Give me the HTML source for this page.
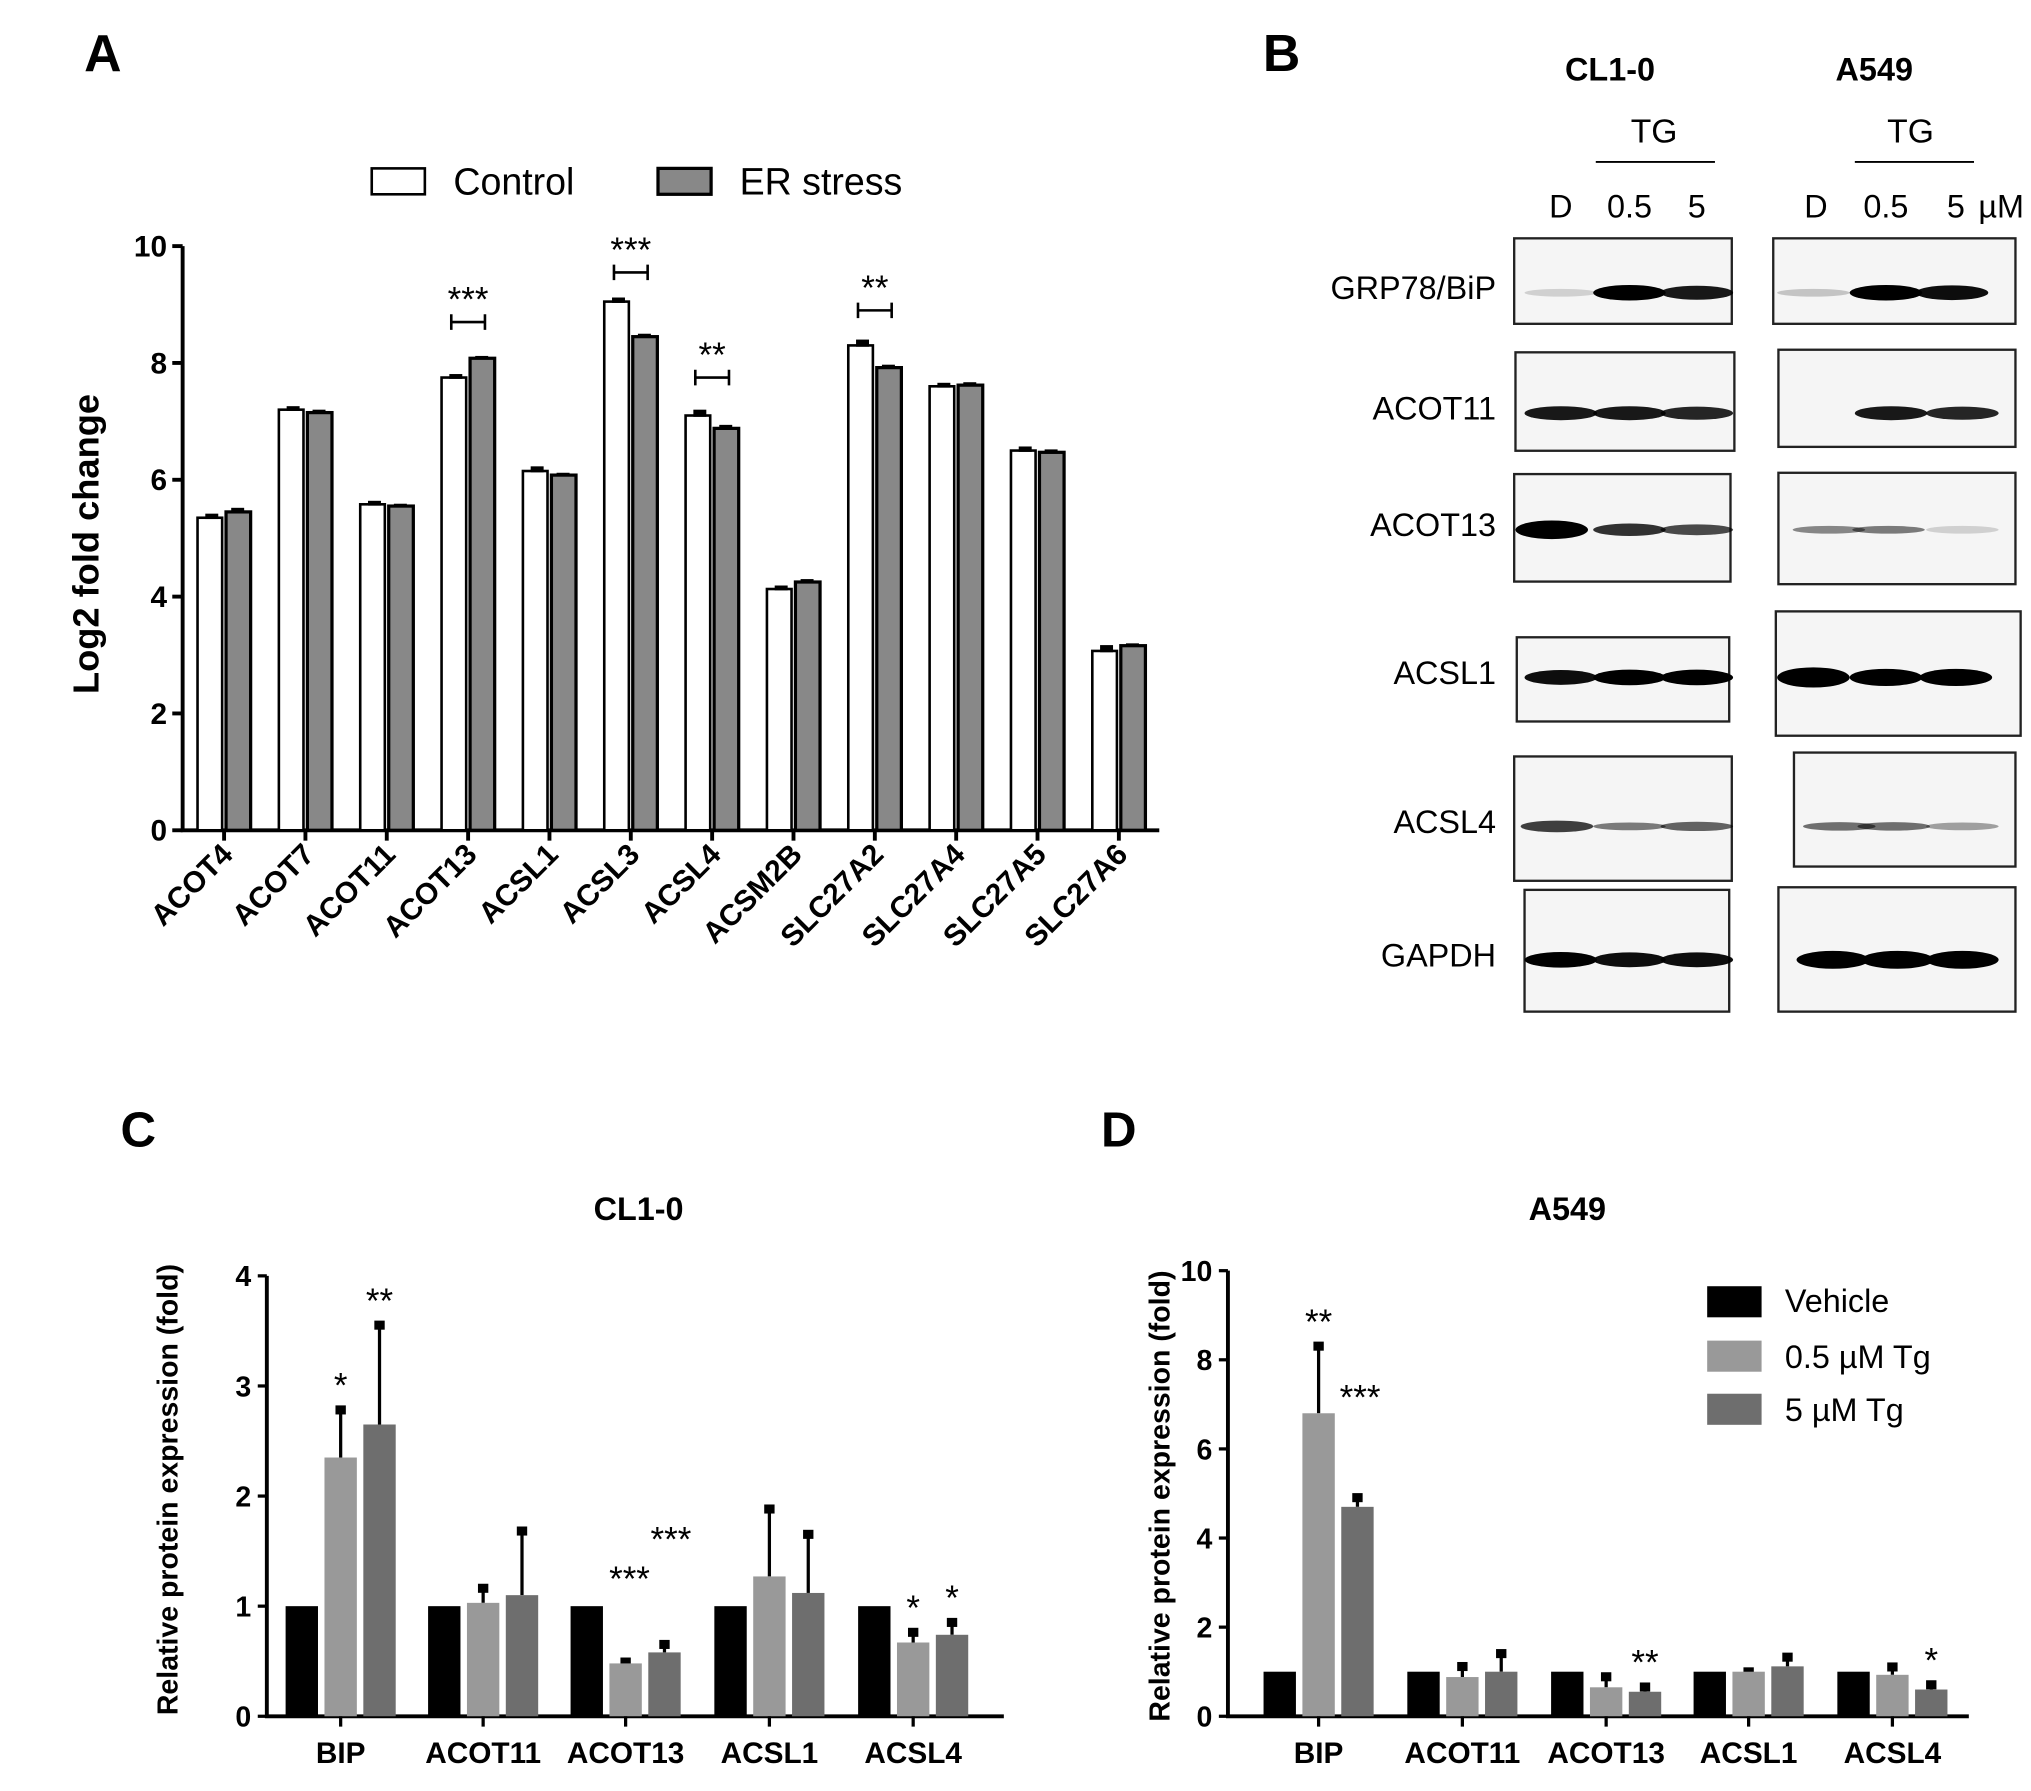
<!DOCTYPE html>
<html><head><meta charset="utf-8"><style>
html,body{margin:0;padding:0;background:#fff;}
svg{display:block;font-family:"Liberation Sans",sans-serif;}
</style></head><body>
<svg id="fig" width="2031" height="1791" viewBox="0 0 1568 1382.7" preserveAspectRatio="none" xmlns="http://www.w3.org/2000/svg">
<g id="pa">
<text x="65" y="55" font-size="40" font-weight="bold">A</text>
<rect x="287" y="130" width="41" height="20" fill="#fff" stroke="#000" stroke-width="2"/>
<text x="350" y="150" font-size="29">Control</text>
<rect x="508" y="130" width="41" height="20" fill="#888" stroke="#000" stroke-width="2.5"/>
<text x="571" y="150" font-size="29">ER stress</text>
<text transform="translate(76,420) rotate(-90)" text-anchor="middle" font-size="28" font-weight="bold">Log2 fold change</text>
</g>
<g id="pb">
<text x="975" y="55" font-size="40" font-weight="bold">B</text>
<text x="1243" y="62" font-size="25" font-weight="bold" text-anchor="middle">CL1-0</text>
<text x="1447" y="62" font-size="25" font-weight="bold" text-anchor="middle">A549</text>
<text x="1277" y="110" font-size="26" text-anchor="middle">TG</text>
<line x1="1232" y1="125" x2="1324" y2="125" stroke="#000" stroke-width="1.5"/>
<text x="1475" y="110" font-size="26" text-anchor="middle">TG</text>
<line x1="1432" y1="125" x2="1524" y2="125" stroke="#000" stroke-width="1.5"/>
<g font-size="25" text-anchor="middle">
<text x="1205" y="168">D</text><text x="1258" y="168">0.5</text><text x="1310" y="168">5</text>
<text x="1402" y="168">D</text><text x="1456" y="168">0.5</text><text x="1510" y="168">5</text><text x="1545" y="168">µM</text>
</g>
</g>
<g id="pc">
<text x="93" y="885" font-size="38" font-weight="bold">C</text>
<text x="493" y="942" font-size="25" font-weight="bold" text-anchor="middle">CL1-0</text>
<text transform="translate(137,1150) rotate(-90)" text-anchor="middle" font-size="22" font-weight="bold">Relative protein expression (fold)</text>
</g>
<g id="pd">
<text x="850" y="885" font-size="38" font-weight="bold">D</text>
<text x="1210" y="942" font-size="25" font-weight="bold" text-anchor="middle">A549</text>
<text transform="translate(903,1155) rotate(-90)" text-anchor="middle" font-size="22" font-weight="bold">Relative protein expression (fold)</text>
<rect x="1318" y="993" width="42" height="24" fill="#000"/>
<text x="1378" y="1013" font-size="25">Vehicle</text>
<rect x="1318" y="1035" width="42" height="24" fill="#999"/>
<text x="1378" y="1056" font-size="25">0.5 µM Tg</text>
<rect x="1318" y="1076" width="42" height="24" fill="#6e6e6e"/>
<text x="1378" y="1097" font-size="25">5 µM Tg</text>
</g>
</svg>
<script>
var NS="http://www.w3.org/2000/svg";
// Panel A data
var aCategories=["ACOT4","ACOT7","ACOT11","ACOT13","ACSL1","ACSL3","ACSL4","ACSM2B","SLC27A2","SLC27A4","SLC27A5","SLC27A6"];
var aControl=[5.35,7.2,5.58,7.75,6.15,9.05,7.1,4.13,8.3,7.6,6.5,3.07];
var aStress=[5.45,7.15,5.55,8.08,6.08,8.45,6.88,4.25,7.92,7.62,6.47,3.16];
var aControlErr=[0.07,0.06,0.06,0.06,0.08,0.07,0.1,0.06,0.1,0.06,0.07,0.1];
var aStressErr=[0.07,0.05,0.04,0.04,0.04,0.05,0.06,0.05,0.05,0.05,0.05,0.04];
var aTicks=[0,2,4,6,8,10];
var aSigIdx=[3,5,6,8];
var aSigLevel=[8.7,9.55,7.75,8.9];
var aSigText=["***","***","**","**"];
// Panel C data
var cCategories=["BIP","ACOT11","ACOT13","ACSL1","ACSL4"];
var cVehicle=[1,1,1,1,1];
var cLow=[2.35,1.03,0.48,1.27,0.67];
var cHigh=[2.65,1.1,0.58,1.12,0.74];
var cLowErr=[0.45,0.15,0.03,0.63,0.11];
var cHighErr=[0.92,0.6,0.09,0.55,0.13];
var cTicks=[0,1,2,3,4];
var cLowStars=["*","","***","","*"];
var cHighStars=["**","","***","","*"];
// Panel D data
var dCategories=["BIP","ACOT11","ACOT13","ACSL1","ACSL4"];
var dVehicle=[1,1,1,1,1];
var dLow=[6.8,0.88,0.65,1.0,0.93];
var dHigh=[4.7,1.0,0.55,1.12,0.6];
var dLowErr=[1.55,0.28,0.28,0.04,0.22];
var dHighErr=[0.25,0.45,0.15,0.25,0.15];
var dTicks=[0,2,4,6,8,10];
var dLowStars=["**","","","",""];
var dHighStars=["***","","**","","*"];

function mk(parent,tag,attrs,txt){var e=document.createElementNS(NS,tag);for(var k in attrs)e.setAttribute(k,attrs[k]);if(txt!==undefined)e.textContent=txt;parent.appendChild(e);return e;}

// ---- Panel A ----
(function(){
var g=document.getElementById('pa');
var x0=141,x1=895,y0=641,yTop=190,max=10;
function ys(v){return y0-(v/max)*(y0-yTop);}
var step=62.8;
function xc(i){return 173+step*i;}
var ax=mk(g,'path',{d:'M'+x0+' '+yTop+' V'+y0+' H'+x1,fill:'none',stroke:'#000','stroke-width':3});


aTicks.forEach(function(t){
 var l=mk(g,'line',{x1:x0-8,x2:x0,y1:ys(t),y2:ys(t),stroke:'#000','stroke-width':3});
 
 
 var tx=mk(g,'text',{x:x0-12,y:ys(t)+8,'font-size':23,'font-weight':'bold','text-anchor':'end'},String(t));
 
 
});
aCategories.forEach(function(c,i){
 var cx=xc(i),bw=19;
 var r1=mk(g,'rect',{x:cx-bw-1.5,y:ys(aControl[i]),width:bw,height:y0-ys(aControl[i]),fill:'#fff',stroke:'#000','stroke-width':2});
 
 
 var e1=mk(g,'rect',{x:cx-bw/2-5,y:ys(aControl[i]+aControlErr[i]),width:10,height:ys(aControl[i])-ys(aControl[i]+aControlErr[i])+1,fill:'#000'});
 
 
 var r2=mk(g,'rect',{x:cx+1.5,y:ys(aStress[i]),width:bw,height:y0-ys(aStress[i]),fill:'#888',stroke:'#000','stroke-width':2.5});
 
 
 var e2=mk(g,'rect',{x:cx+bw/2-4,y:ys(aStress[i]+aStressErr[i]),width:10,height:ys(aStress[i])-ys(aStress[i]+aStressErr[i])+1,fill:'#000'});
 
 
 var tk=mk(g,'line',{x1:cx,x2:cx,y1:y0,y2:y0+8,stroke:'#000','stroke-width':3});
 
 
 var lb=mk(g,'text',{transform:'translate('+(cx+8)+','+(y0+20)+') rotate(-45)','font-size':23,'font-weight':'bold','text-anchor':'end'},c);
 
 
});
aSigIdx.forEach(function(idx,k){
 var cx=xc(idx),y=ys(aSigLevel[k]);
 var b=mk(g,'path',{d:'M'+(cx-13)+' '+(y-6)+' V'+(y+6)+' M'+(cx-13)+' '+y+' H'+(cx+13)+' M'+(cx+13)+' '+(y-6)+' V'+(y+6),stroke:'#000','stroke-width':2,fill:'none'});
 
 
 var s=mk(g,'text',{x:cx,y:y-8,'font-size':27,'text-anchor':'middle'},aSigText[k]);
 
 
});
})();

// ---- Panel B (western blots) ----
(function(){
var g=document.getElementById('pb');
var rows=[["GRP78/BiP",225,[1169,184,168,66],[1369,184,187,66],[0.15,1,0.9],[0.2,1,0.95],[1205,1258,1310],[1400,1456,1507]],
["ACOT11",318,[1170,272,169,76],[1373,270,183,75],[0.9,0.9,0.85],[0,0.9,0.85],[1205,1258,1310],[1412,1460,1515]],
["ACOT13",408,[1169,366,167,83],[1373,365,183,86],[1.2,0.8,0.7],[0.45,0.5,0.15],[1198,1258,1310],[1412,1458,1515]],
["ACSL1",522,[1171,492,164,65],[1371,472,189,96],[0.95,1,1],[1.3,1.1,1.1],[1205,1258,1310],[1400,1456,1510]],
["ACSL4",637,[1169,584,168,96],[1385,581,171,88],[0.75,0.5,0.6],[0.55,0.55,0.35],[1202,1258,1310],[1420,1462,1515]],
["GAPDH",740,[1177,687,158,94],[1373,685,183,96],[1,0.95,0.95],[1.15,1.15,1.15],[1205,1258,1310],[1415,1465,1515]]];
rows.forEach(function(r){
 var lb=mk(g,'text',{x:1155,y:r[1]+6,'font-size':25,'text-anchor':'end'},r[0]);
 
 
 [[r[2],r[4],r[6]],[r[3],r[5],r[7]]].forEach(function(p){
  var b=p[0];
  var box=mk(g,'rect',{x:b[0],y:b[1],width:b[2],height:b[3],fill:'#f5f5f5',stroke:'#222','stroke-width':1.8});
  
  
  var cy=r[1]+1;
  p[1].forEach(function(inten,j){
   if(inten<=0)return;
   var op=Math.min(1,inten);var h=Math.max(6,inten*12);
   var band=mk(g,'ellipse',{cx:p[2][j],cy:cy,rx:28,ry:h/2,fill:'#000','fill-opacity':op});
   
   
  });
 });
});
})();

// ---- Panels C & D ----
function groupChart(gid,prefix,cats,veh,low,high,lowErr,highErr,ticks,lowStars,highStars,x0,x1,y0,yTop,max,tickX){
var g=document.getElementById(gid);
function ys(v){return y0-(v/max)*(y0-yTop);}
var ax=mk(g,'path',{d:'M'+x0+' '+yTop+' V'+y0+' H'+x1,fill:'none',stroke:'#000','stroke-width':3});


ticks.forEach(function(t){
 var l=mk(g,'line',{x1:x0-7,x2:x0,y1:ys(t),y2:ys(t),stroke:'#000','stroke-width':2.5});
 
 
 var tx=mk(g,'text',{x:x0-12,y:ys(t)+8,'font-size':22,'font-weight':'bold','text-anchor':'end'},String(t));
 
 
});
var bw=25;
cats.forEach(function(c,i){
 var cx=tickX[i];
 var sets=[[veh[i],0,'#000',cx-30,''],[low[i],lowErr[i],'#999',cx,lowStars[i]],[high[i],highErr[i],'#6e6e6e',cx+30,highStars[i]]];
 sets.forEach(function(s,k){
  if(s[1]>0){
   var el=mk(g,'line',{x1:s[3],x2:s[3],y1:ys(s[0]),y2:ys(s[0]+s[1]),stroke:'#000','stroke-width':2.5});
   
   
   var cap=mk(g,'rect',{x:s[3]-4,y:ys(s[0]+s[1])-2,width:8,height:7,fill:'#000'});
   
   
  }
  var r=mk(g,'rect',{x:s[3]-bw/2,y:ys(s[0]),width:bw,height:y0-ys(s[0]),fill:s[2]});
  
  
  if(s[4]){
   var sy=ys(s[0]+s[1])-8;
   var sx=s[3];
   if(s[4].length==3){
     sx=s[3]+(k==2?5:3);
     sy=Math.min(sy,ys(s[0])-(k==2?(prefix=='d'?75:78):56));
     if(prefix=='d'&&k==2){sx=s[3]+2;}
   }
   var st=mk(g,'text',{x:sx,y:sy,'font-size':27,'text-anchor':'middle'},s[4]);
   
   
  }
 });
 var tk=mk(g,'line',{x1:cx,x2:cx,y1:y0,y2:y0+8,stroke:'#000','stroke-width':2.5});
 
 
 var lb=mk(g,'text',{x:cx,y:y0+36,'font-size':23,'font-weight':'bold','text-anchor':'middle'},c);
 
 
});
}
groupChart('pc','c',cCategories,cVehicle,cLow,cHigh,cLowErr,cHighErr,cTicks,cLowStars,cHighStars,206,775,1325,985,4,[263,373,483,594,705]);
groupChart('pd','d',dCategories,dVehicle,dLow,dHigh,dLowErr,dHighErr,dTicks,dLowStars,dHighStars,948,1520,1325,981,10,[1018,1129,1240,1350,1461]);
</script>
</body></html>
